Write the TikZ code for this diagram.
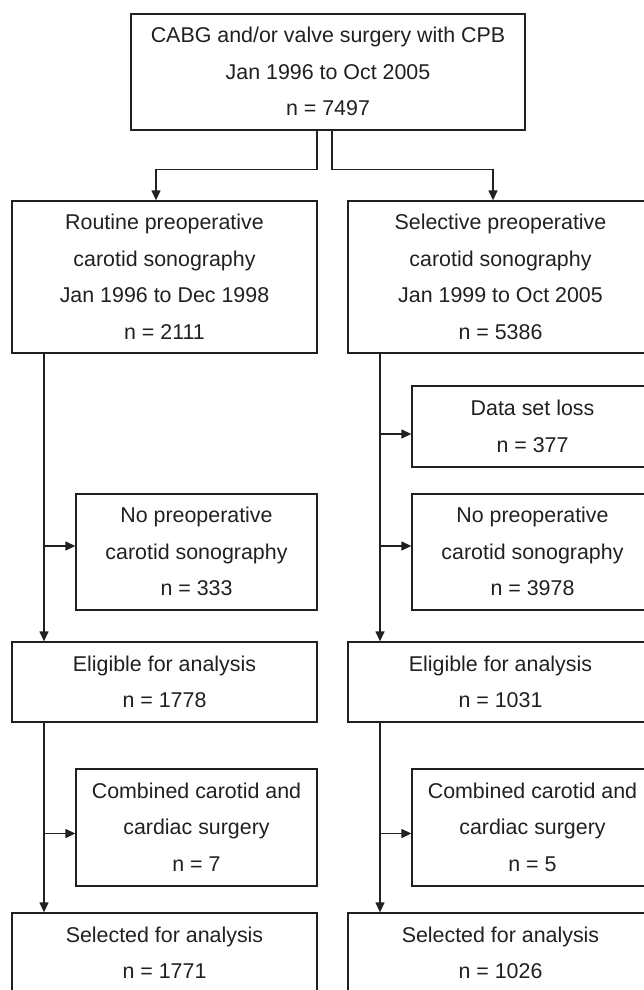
\documentclass[tikz,border=0pt]{standalone}
\usepackage{fontspec}
\setmainfont{Liberation Sans}
\usetikzlibrary{arrows.meta}
\definecolor{ink}{RGB}{35,31,32}
\begin{document}
\begin{tikzpicture}[x=1pt,y=-1pt,
  box/.style={draw=ink, line width=1.3pt, rectangle, inner sep=0pt, align=center, text=ink,
    font=\fontsize{21.4pt}{36.5pt}\selectfont},
  wide/.style={box, minimum width=305pt},
  narrow/.style={box, minimum width=241pt},
  arr/.style={draw=ink, line width=1.3pt, -{Triangle[length=10pt,width=9pt]}}]
\useasboundingbox (0,0) rectangle (644,990);
\clip (0,0) rectangle (644,990);

\node[box, minimum width=394pt, minimum height=116pt] (top) at (328,72)
  {\strut CABG and/or valve surgery with CPB\\Jan 1996 to Oct 2005\\n = 7497\strut};

\node[wide, minimum height=152pt] (rout) at (164.5,277)
  {\strut Routine preoperative\\carotid sonography\\Jan 1996 to Dec 1998\\n = 2111\strut};
\node[wide, minimum height=152pt] (sel) at (500.5,277)
  {\strut Selective preoperative\\carotid sonography\\Jan 1999 to Oct 2005\\n = 5386\strut};

\node[narrow, minimum height=81pt] (loss) at (532.5,426.5)
  {\strut Data set loss\\n = 377\strut};
\node[narrow, minimum height=116pt] (noL) at (196.5,552)
  {\strut No preoperative\\carotid sonography\\n = 333\strut};
\node[narrow, minimum height=116pt] (noR) at (532.5,552)
  {\strut No preoperative\\carotid sonography\\n = 3978\strut};

\node[wide, minimum height=80pt] (eligL) at (164.5,682)
  {\strut Eligible for analysis\\n = 1778\strut};
\node[wide, minimum height=80pt] (eligR) at (500.5,682)
  {\strut Eligible for analysis\\n = 1031\strut};

\node[narrow, minimum height=117pt] (combL) at (196.5,827.5)
  {\strut Combined carotid and\\cardiac surgery\\n = 7\strut};
\node[narrow, minimum height=117pt] (combR) at (532.5,827.5)
  {\strut Combined carotid and\\cardiac surgery\\n = 5\strut};

\node[wide, minimum height=80pt] (selL) at (164.5,953)
  {\strut Selected for analysis\\n = 1771\strut};
\node[wide, minimum height=80pt] (selR) at (500.5,953)
  {\strut Selected for analysis\\n = 1026\strut};

% split from top box
\draw[arr] ([xshift=-11pt]top.south) -- ++(0,39) -| ([xshift=-8.5pt]rout.north);
\draw[arr] ([xshift=4pt]top.south) -- ++(0,39) -| ([xshift=-7.5pt]sel.north);

% entry points of side arrows
\coordinate (inNoL) at ([yshift=6pt]noL.west);
\coordinate (inCombL) at ([yshift=-6pt]combL.west);
\coordinate (inLoss) at ([yshift=-7.5pt]loss.west);
\coordinate (inNoR) at ([yshift=6pt]noR.west);
\coordinate (inCombR) at ([yshift=-6pt]combR.west);

% left column
\coordinate (vL1) at ([xshift=-120.5pt]rout.south);
\draw[arr] (vL1) -- (vL1 |- eligL.north);
\draw[arr] (vL1 |- inNoL) -- (inNoL);
\coordinate (vL2) at ([xshift=-120.5pt]eligL.south);
\draw[arr] (vL2) -- (vL2 |- selL.north);
\draw[arr] (vL2 |- inCombL) -- (inCombL);

% right column
\coordinate (vR1) at ([xshift=-120.5pt]sel.south);
\draw[arr] (vR1) -- (vR1 |- eligR.north);
\draw[arr] (vR1 |- inLoss) -- (inLoss);
\draw[arr] (vR1 |- inNoR) -- (inNoR);
\coordinate (vR2) at ([xshift=-120.5pt]eligR.south);
\draw[arr] (vR2) -- (vR2 |- selR.north);
\draw[arr] (vR2 |- inCombR) -- (inCombR);
\end{tikzpicture}
\end{document}
